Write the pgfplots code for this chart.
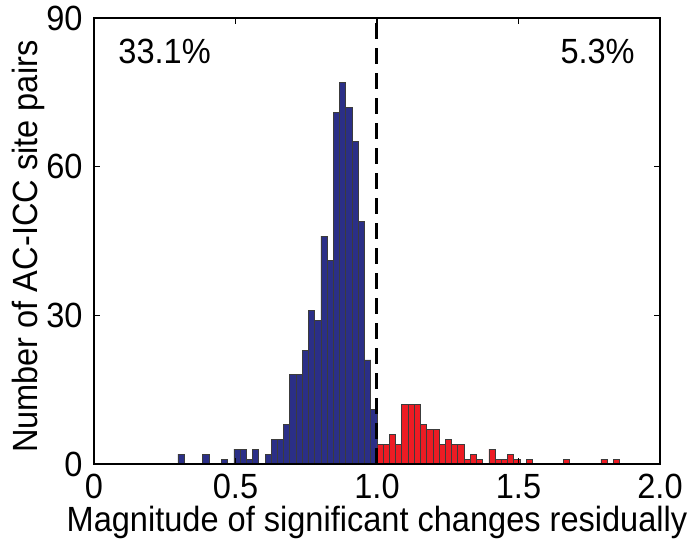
\documentclass[border=0pt]{standalone}
\usepackage{fontspec}
\setmainfont{Liberation Sans}[FakeStretch=0.93]
\usepackage{pgfplots}
\pgfplotsset{compat=1.18}
\definecolor{barblue}{RGB}{43,47,135}
\definecolor{barred}{RGB}{237,28,36}
\definecolor{baredge}{RGB}{60,60,60}

\begin{document}
\begin{tikzpicture}
\useasboundingbox (-47pt,-40pt) rectangle (299pt,232pt);
\begin{axis}[
  at={(0,0)}, anchor=south west,
  width=283pt, height=223pt, scale only axis,
  xmin=0, xmax=2, ymin=0, ymax=90,
  xtick={0,0.5,1,1.5,2}, xticklabels={0,0.5,1.0,1.5,2.0},
  ytick={0,30,60,90},
  tick align=inside, major tick length=3pt,
  axis on top,
  axis line style={line width=1pt},
  tick style={line width=0.6pt, black},
  font=\fontsize{17.5}{21}\selectfont,
  /pgf/number format/assume math mode=true,
  xticklabel style={anchor=base, inner sep=0pt, yshift=-17.5pt},
  yticklabel style={anchor=east, inner sep=0pt, xshift=-5.5pt},
  xlabel={Magnitude of significant changes residually},
  ylabel={Number of AC-ICC site pairs},
  xlabel style={at={(axis description cs:0.5,-0.152)}, anchor=base, inner sep=0pt},
  ylabel style={at={(axis description cs:-0.115,0.487)}, anchor=center},
]
% counts below 1.0
\addplot[ybar interval, fill=barblue, draw=baredge, line width=0.4pt] coordinates {
(0.2966,2) (0.3186,0) (0.3406,0) (0.3625,0) (0.3845,2) (0.4065,0) (0.4285,0)
(0.4505,1) (0.4724,0) (0.4944,3) (0.5164,3) (0.5384,1) (0.5604,3) (0.5823,0)
(0.6043,2) (0.6263,5) (0.6483,5) (0.6703,8) (0.6922,18) (0.7142,18) (0.7362,23)
(0.7582,31) (0.7802,29) (0.8021,46) (0.8241,41) (0.8461,71) (0.8681,77)
(0.8901,72) (0.9120,65) (0.9340,49) (0.9560,21) (0.9780,11) (1.0000,0)
};
% counts above 1.0
\addplot[ybar interval, fill=barred, draw=baredge, line width=0.4pt] coordinates {
(1.0000,4) (1.0220,4) (1.0440,6) (1.0659,4) (1.0879,12) (1.1099,12) (1.1319,12)
(1.1539,8) (1.1758,7) (1.1978,7) (1.2198,4) (1.2418,5) (1.2638,4) (1.2857,4)
(1.3077,1) (1.3297,2) (1.3517,1) (1.3737,0) (1.3956,3) (1.4176,1) (1.4396,1)
(1.4616,2) (1.4836,1) (1.5055,0) (1.5275,1) (1.5495,0) (1.5715,0) (1.5935,0)
(1.6154,0) (1.6374,0) (1.6594,1) (1.6814,0) (1.7034,0) (1.7253,0) (1.7473,0)
(1.7693,0) (1.7913,1) (1.8133,0) (1.8352,1) (1.8572,0)
};
% threshold at 1.0
\addplot[black, line width=1.5pt, dash pattern=on 8pt off 4.5pt] coordinates {(1,0) (1,90)};
\node[anchor=west, inner sep=0pt] at (axis cs:0.085,83.2) {33.1\%};
\node[anchor=east, inner sep=0pt] at (axis cs:1.912,83.2) {5.3\%};
\end{axis}
\end{tikzpicture}
\end{document}
